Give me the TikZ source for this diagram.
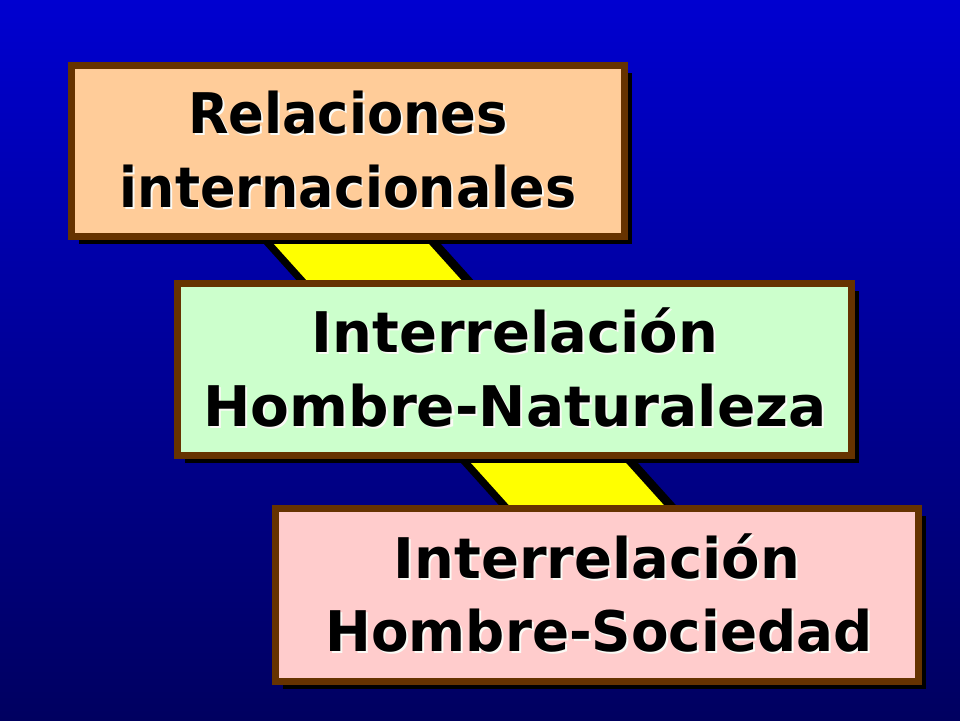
\documentclass[tikz,border=0pt]{standalone}
\usepackage{fontspec}
\setmainfont{DejaVu Sans}
\usetikzlibrary{shadows}
\definecolor{bgtop}{RGB}{0,0,208}
\definecolor{bgbot}{RGB}{0,0,96}
\definecolor{peach}{HTML}{FFCC99}
\definecolor{mint}{HTML}{CCFFCC}
\definecolor{rosy}{HTML}{FFCCCC}
\definecolor{brownedge}{HTML}{663300}
\definecolor{bandyellow}{HTML}{FFFF00}
\definecolor{glow}{RGB}{250,250,245}
\tikzset{
  boxstyle/.style={draw=brownedge, line width=7pt, inner sep=0pt,
    drop shadow={shadow xshift=7.5pt, shadow yshift=-7.5pt, opacity=1, fill=black}},
  txt/.style={anchor=base, inner sep=0pt, text=black,
    font=\fontsize{56}{60}\selectfont\bfseries},
}
\newcommand{\glowtext}[2]{\scalebox{#1}[1]{\rlap{\hspace{2pt}\raisebox{-2pt}{\color{glow}#2}}#2}}
\newcommand{\lbl}[5]{%
  \node[txt] (#1) at (#2,#3) {\glowtext{#4}{#5}};
}
\begin{document}
\begin{tikzpicture}[x=1pt,y=-1pt]
\useasboundingbox (0,0) rectangle (960,720);
\shade[top color=bgtop,bottom color=bgbot] (0,0) rectangle (960,720);
% band
\fill[black] (179.3,150) -- (356.3,150) -- (761.3,600) -- (584.3,600) -- cycle;
\fill[bandyellow] (189.3,150) -- (344.3,150) -- (749.3,600) -- (594.3,600) -- cycle;
% boxes
\node[boxstyle, fill=peach, minimum width=553pt, minimum height=171pt] (b1) at (348,151) {};
\node[boxstyle, fill=mint, minimum width=674pt, minimum height=172pt] (b2) at (514.5,369.5) {};
\node[boxstyle, fill=rosy, minimum width=643pt, minimum height=173pt] (b3) at (597,595) {};
% texts
\lbl{t1a}{348}{133}{0.94}{Relaciones}
\lbl{t1b}{348}{207}{0.935}{internacionales}
\lbl{t2a}{515}{352}{1.0}{Interrelación}
\lbl{t2b}{515}{426}{1.01}{Hombre-Naturaleza}
\lbl{t3a}{597}{578}{1.0}{Interrelación}
\lbl{t3b}{599}{651}{0.977}{Hombre-Sociedad}
\end{tikzpicture}
\end{document}
